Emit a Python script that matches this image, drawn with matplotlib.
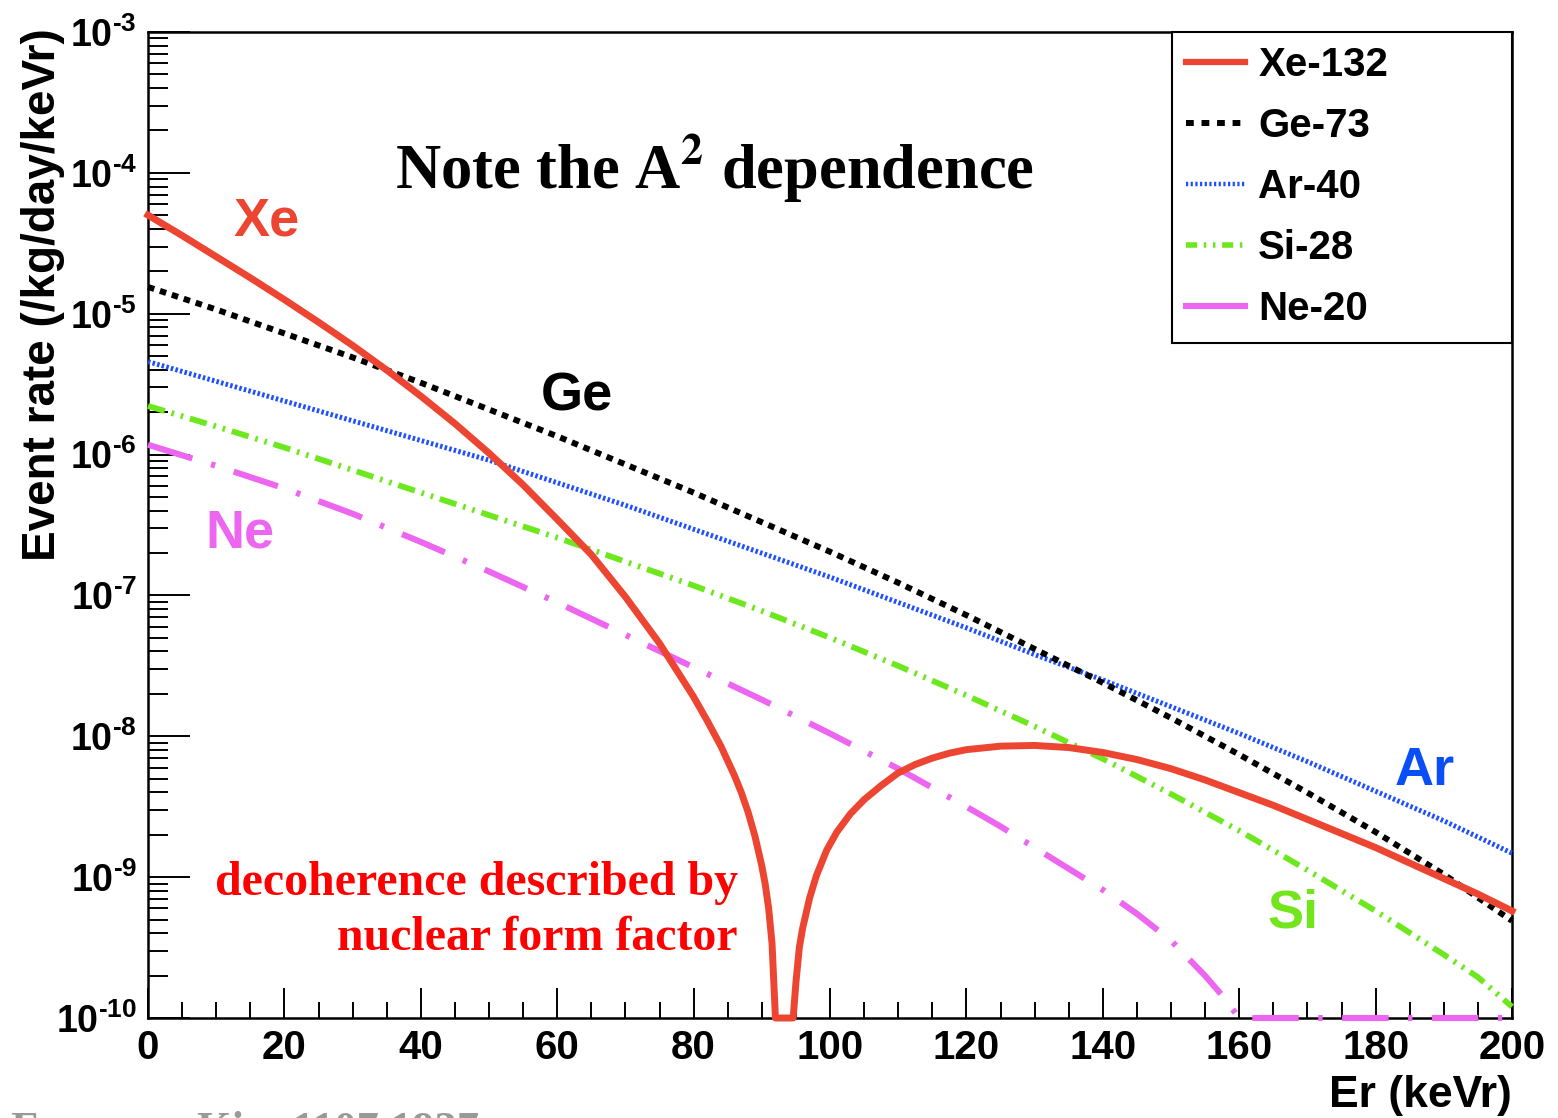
"""
Coherent neutrino-nucleus scattering rate versus recoil energy for several targets.
"""
import numpy as np
import matplotlib
matplotlib.use("Agg")
import matplotlib.pyplot as plt
from matplotlib.lines import Line2D
from matplotlib.ticker import LogLocator, MultipleLocator, FuncFormatter, NullFormatter

# ── Data: log10 of event rate (/kg/day/keVr) read at recoil energies (keVr) ──
ER_GRID = [0, 10, 20, 30, 40, 50, 60, 70, 80, 90, 100,
           110, 120, 130, 140, 150, 160, 170, 180, 190, 200]
LOG_GE = [-4.81, -4.97, -5.14, -5.31, -5.49, -5.68, -5.87, -6.07, -6.27, -6.48, -6.69,
          -6.91, -7.14, -7.38, -7.62, -7.87, -8.13, -8.40, -8.68, -8.98, -9.31]
LOG_AR = [-5.34, -5.48, -5.62, -5.76, -5.90, -6.04, -6.20, -6.36, -6.53, -6.70, -6.87,
          -7.05, -7.23, -7.42, -7.60, -7.79, -7.98, -8.18, -8.39, -8.60, -8.83]

ER_SI = [0, 10, 20, 30, 40, 50, 60, 70, 80, 90, 100,
         110, 120, 130, 140, 150, 160, 170, 180, 190, 195, 200]
LOG_SI = [-5.655, -5.80, -5.95, -6.11, -6.27, -6.43, -6.59, -6.76, -6.93, -7.11, -7.30,
          -7.50, -7.71, -7.93, -8.16, -8.41, -8.67, -8.95, -9.24, -9.55, -9.71, -9.92]

# Ne falls below the plotted floor above ~160 keVr and is drawn on the floor
ER_NE = [0, 10, 20, 30, 40, 50, 60, 70, 80, 90, 100, 110, 120, 125, 130, 135, 140,
         145, 150, 155, 157.5, 160, 170, 180, 190, 200]
LOG_NE = [-5.93, -6.08, -6.24, -6.42, -6.62, -6.83, -7.05, -7.28, -7.51, -7.74, -7.98,
          -8.23, -8.50, -8.64, -8.79, -8.94, -9.09, -9.26, -9.45, -9.70, -9.84, -10.0,
          -10.0, -10.0, -10.0, -10.0]

# Xe: form-factor zero near 93 keVr, drawn on the floor there
ER_XE = [0, 5, 10, 15, 20, 25, 30, 35, 40, 45, 50, 55, 60, 65, 70, 75, 80,
         82, 84, 86, 87, 88, 89, 90, 90.5, 91, 91.5, 92,
         94.6, 95, 95.5, 96, 97, 98, 99.5, 101, 103, 105, 107.5, 110, 112.5,
         115, 117.5, 120, 125, 130, 135, 140, 145, 150, 155, 160, 165, 170,
         175, 180, 185, 190, 195, 200]
LOG_XE = [-4.30, -4.445, -4.595, -4.745, -4.90, -5.06, -5.225, -5.40, -5.585, -5.78,
          -5.99, -6.215, -6.46, -6.71, -7.01, -7.34, -7.72,
          -7.89, -8.07, -8.28, -8.40, -8.54, -8.71, -8.92, -9.05, -9.22, -9.47, -10.0,
          -10.0, -9.75, -9.50, -9.36, -9.15, -8.99, -8.81, -8.68, -8.55, -8.45, -8.35,
          -8.26, -8.20, -8.155, -8.12, -8.095, -8.07, -8.065, -8.08, -8.115, -8.165,
          -8.23, -8.31, -8.40, -8.49, -8.59, -8.69, -8.79, -8.90, -9.01, -9.12, -9.24]

LEGEND_LABELS = ["Xe-132", "Ge-73", "Ar-40", "Si-28", "Ne-20"]

C_XE = "#ec4632"
C_GE = "#000000"
C_AR = "#1f50ff"
C_SI = "#6ee81e"
C_NE = "#ec66f0"

plt.rcParams["font.family"] = "Liberation Sans"
plt.rcParams["font.weight"] = "bold"
plt.rcParams["mathtext.fontset"] = "custom"
plt.rcParams["mathtext.rm"] = "Liberation Sans:bold"
plt.rcParams["mathtext.bf"] = "Liberation Sans:bold"
plt.rcParams["mathtext.it"] = "Liberation Sans:bold"

fig = plt.figure(figsize=(15.58, 11.18), dpi=100)
ax = fig.add_axes([148 / 1558, 1 - 1018 / 1118, 1364 / 1558, 986 / 1118])


def rate(logs):
    return 10.0 ** np.asarray(logs)


def decade_label(v, pos):
    e = int(round(np.log10(v)))
    sign = "\u2010" if e < 0 else ""
    return r"$\mathbf{10^{%s%d}}$" % (sign, abs(e))


ax.plot(ER_GRID, rate(LOG_AR), color=C_AR, lw=3.6, dashes=(0.5, 0.45),
        dash_capstyle="butt", clip_on=False, zorder=3)
ax.plot(ER_GRID, rate(LOG_GE), color=C_GE, lw=4.3, dashes=(1.1, 1.0),
        dash_capstyle="butt", clip_on=False, zorder=4)
ax.plot(ER_SI, rate(LOG_SI), color=C_SI, lw=4.2,
        dashes=(3.0, 1.2, 0.45, 1.2, 0.45, 1.2),
        dash_capstyle="butt", clip_on=False, zorder=3)
ax.plot(ER_NE, rate(LOG_NE), color=C_NE, lw=4.4, dashes=(7.6, 3.2, 0.7, 3.2),
        dash_capstyle="butt", clip_on=False, zorder=3)
ax.plot(ER_XE, rate(LOG_XE), color=C_XE, lw=5.0, solid_joinstyle="round",
        clip_on=False, zorder=5)

ax.set_xlim(0, 200)
ax.set_yscale("log")
ax.set_ylim(1e-10, 1e-3)

ax.xaxis.set_major_locator(MultipleLocator(20))
ax.xaxis.set_minor_locator(MultipleLocator(5))
ax.yaxis.set_major_locator(LogLocator(base=10, numticks=20))
ax.yaxis.set_minor_locator(LogLocator(base=10, subs=np.arange(2, 10), numticks=200))
ax.yaxis.set_minor_formatter(NullFormatter())
ax.yaxis.set_major_formatter(FuncFormatter(decade_label))

ax.tick_params(which="both", direction="in", top=False, right=False, color="black")
ax.tick_params(axis="x", which="major", length=21.5, width=1.4, pad=8, labelsize=29)
ax.tick_params(axis="x", which="minor", length=11.5, width=1.4)
ax.tick_params(axis="y", which="major", length=30, width=1.4, pad=8, labelsize=27)
ax.tick_params(axis="y", which="minor", length=14.5, width=1.4)
for sp in ax.spines.values():
    sp.set_linewidth(1.8)
    sp.set_zorder(2.5)

ax.set_xlabel("Er (keVr)", fontsize=32, fontweight="bold", loc="right")
ax.xaxis.set_label_coords(1.0, -0.058)
ax.set_ylabel("Event rate (/kg/day/keVr)", fontsize=33, fontweight="bold", loc="top")
ax.yaxis.set_label_coords(-0.061, 1.004)

# curve labels
lab = dict(fontsize=39, fontweight="bold", ha="center", va="baseline",
           transform=ax.transAxes)
ax.text(0.0872, 0.794, "Xe", color=C_XE, **lab)
ax.text(0.3145, 0.6166, "Ge", color=C_GE, **lab)
ax.text(0.0674, 0.4767, "Ne", color=C_NE, **lab)
ax.text(0.9362, 0.2363, "Ar", color="#0a4ef5", **lab)
ax.text(0.8394, 0.0913, "Si", color="#72e51c", **lab)

ax.text(0.1811, 0.8418, r"Note the A$^{\mathbf{2}}$ dependence", fontsize=45,
        fontweight="bold", family="Liberation Serif", math_fontfamily="stix",
        ha="left", va="baseline", transform=ax.transAxes)
ax.text(0.4326, 0.1247, "decoherence described by", fontsize=34.5, color="#ff0000",
        fontweight="bold", family="Liberation Serif", ha="right", va="baseline",
        transform=ax.transAxes)
ax.text(0.4326, 0.0690, "nuclear form factor", fontsize=34.5, color="#ff0000",
        fontweight="bold", family="Liberation Serif", ha="right", va="baseline",
        transform=ax.transAxes)

# legend keys
handles = [
    Line2D([], [], color=C_XE, lw=4.5),
    Line2D([], [], color=C_GE, lw=4.3, dashes=(1.3, 1.3), dash_capstyle="butt"),
    Line2D([], [], color=C_AR, lw=3.2, dashes=(0.5, 0.55), dash_capstyle="butt"),
    Line2D([], [], color=C_SI, lw=4.0, dashes=(2.0, 1.2, 0.45, 1.2, 0.45, 1.2),
           dash_capstyle="butt"),
    Line2D([], [], color=C_NE, lw=4.4),
]
leg = ax.legend(handles, LEGEND_LABELS, loc="upper left",
                bbox_to_anchor=(0.7507, 0.0, 0.2493, 1.0), mode="expand",
                borderaxespad=0, prop={"weight": "bold", "size": 29},
                handlelength=1.45, handletextpad=0.33, borderpad=0.36,
                labelspacing=0.57, fancybox=False, framealpha=1, edgecolor="black")
leg.get_frame().set_linewidth(1.5)
leg.set_zorder(7)

# source note along the bottom edge
fig.text(10 / 1558, -0.0215, "From", fontsize=32, color="#999999",
         family="Liberation Serif", ha="left", va="baseline")
fig.text(197 / 1558, -0.0215, "Kim 1107.1937", fontsize=32, color="#999999",
         family="Liberation Serif", ha="left", va="baseline")

fig.savefig("out.png", dpi=100)
